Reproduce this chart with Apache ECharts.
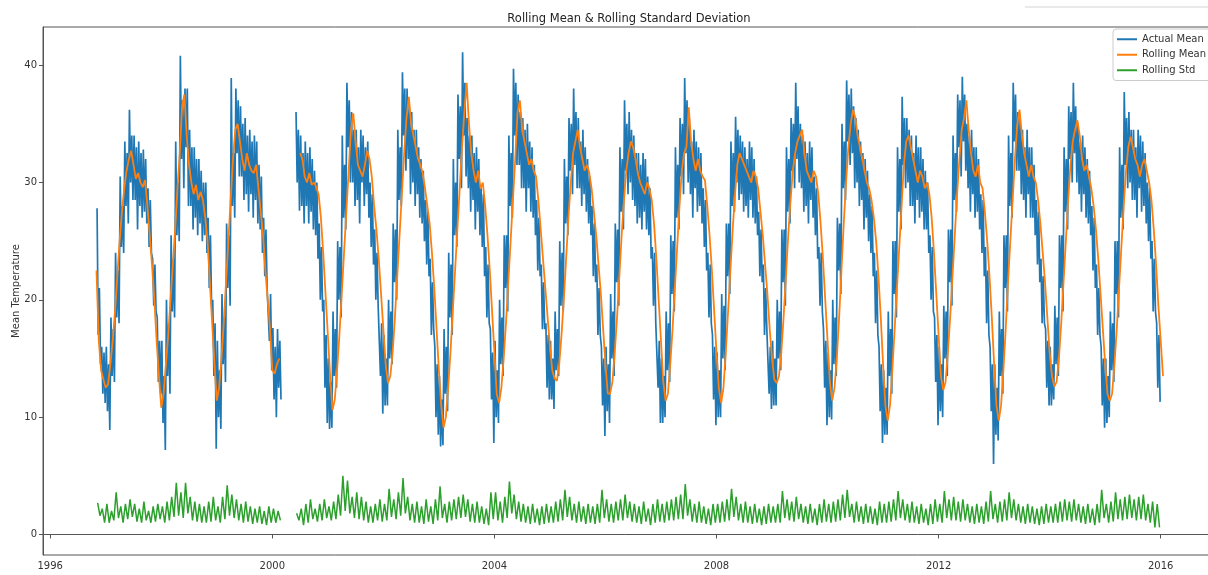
<!DOCTYPE html>
<html><head><meta charset="utf-8">
<script src="https://cdn.jsdelivr.net/npm/echarts@6/dist/echarts.min.js"></script>
<style>html,body{margin:0;padding:0;background:#fff}#c{width:1208px;height:575px}</style>
</head><body><div id="c"></div>
<script>
// Series start: November 1996 (month index 10)
const startYear = 1996, startMonth = 10;

// Rolling mean, two readings per month (1st and 16th)
const rollMean = [
 22.5,16.5,14.0,13.2,
 12.5,12.8,14.5,16.5,19.0,22.0,25.0,27.5,29.5,31.0,32.0,32.7,31.5,30.3,30.8,30.0,29.6,30.2,28.0,25.5,23.0,20.0,16.5,13.5,
 10.8,12.0,14.5,17.0,20.0,23.0,26.0,29.5,32.5,36.5,37.5,34.0,31.5,30.0,29.0,29.8,28.5,29.2,28.5,27.0,25.0,21.5,18.0,14.5,
 11.4,12.5,15.0,18.0,21.5,25.0,28.5,32.0,34.5,35.0,33.5,32.0,31.0,32.5,31.5,31.0,30.8,31.5,29.5,27.5,25.5,22.5,20.0,17.5,
 14.0,13.7,14.5,15.0,null,null,null,null,null,null,null,null,32.5,32.0,30.5,30.0,30.8,29.8,30.0,29.6,29.0,27.0,24.0,20.5,17.0,13.5,
 10.6,11.5,14.0,17.0,20.5,24.0,27.5,31.0,34.5,35.9,33.5,31.5,31.0,30.5,31.5,32.7,32.0,30.5,28.0,26.0,23.5,20.5,17.5,14.5,
 12.9,13.5,15.5,18.5,22.0,25.5,29.0,32.5,35.5,37.3,35.0,34.0,33.0,32.0,31.5,30.8,29.5,28.0,26.5,24.0,21.0,17.5,14.0,11.0,
 9.1,10.0,12.5,15.5,19.0,22.5,26.0,29.5,33.0,36.0,38.5,35.0,32.5,31.0,30.0,31.0,29.5,30.0,28.0,25.5,22.5,19.0,15.5,12.0,
 11.2,12.5,15.0,18.0,21.5,25.0,28.5,32.0,36.0,37.0,34.5,33.5,32.5,31.5,32.0,31.0,30.5,28.5,26.0,23.5,21.0,18.5,16.0,14.0,
 13.3,13.1,14.5,17.0,20.0,23.5,27.0,30.0,32.5,33.5,34.5,33.0,32.0,31.0,31.5,30.8,29.5,27.5,25.5,23.0,20.5,17.5,14.5,12.0,
 12.0,13.0,15.5,18.5,22.0,25.5,28.5,31.0,32.5,33.5,33.0,32.0,30.8,30.0,29.5,29.0,30.0,29.5,28.5,26.5,23.5,20.0,16.5,13.0,
 11.4,12.0,14.5,17.5,21.0,24.5,28.0,31.0,32.5,33.0,36.4,33.5,32.0,31.0,32.0,31.0,30.5,30.2,28.0,25.5,22.5,19.0,15.5,12.5,
 11.2,12.5,15.5,19.0,22.5,26.0,29.0,31.5,32.5,32.0,31.5,31.0,30.5,30.0,31.0,30.5,29.5,27.5,25.5,23.0,20.5,17.5,15.0,13.2,
 12.9,13.5,15.5,18.5,22.0,25.5,28.5,31.0,32.5,33.5,34.0,34.5,32.5,31.0,30.5,30.0,31.0,30.5,29.0,26.5,23.5,20.0,16.5,13.0,
 11.4,12.5,15.0,18.5,22.5,26.5,30.0,33.0,35.0,36.2,35.5,34.0,33.0,32.0,31.0,30.0,29.5,28.5,27.0,25.0,22.0,18.5,14.5,11.0,
 9.7,11.0,14.0,17.5,21.0,24.5,28.0,31.5,33.5,34.0,33.0,32.0,31.0,30.0,31.0,30.5,29.5,30.0,29.0,27.0,24.0,20.5,17.0,13.5,
 12.3,13.0,15.5,18.5,22.0,25.5,29.0,32.0,34.5,35.5,37.0,34.5,32.5,31.0,30.5,31.5,30.0,29.5,27.5,25.0,22.0,18.5,14.5,11.0,
 9.7,11.0,14.0,17.5,21.5,25.0,28.5,32.0,35.0,36.2,34.0,32.5,31.5,30.5,31.5,30.5,30.0,28.5,26.5,24.0,21.5,18.5,15.5,13.5,
 12.6,13.0,15.0,18.0,21.5,25.0,28.5,31.5,33.5,34.5,35.3,34.0,32.0,31.0,31.5,30.5,29.5,28.0,26.0,23.5,20.5,17.5,14.5,12.0,
 11.4,12.0,14.5,17.5,21.0,24.5,28.0,31.0,33.0,33.9,33.0,32.0,31.5,30.5,31.5,32.0,31.0,30.0,28.5,26.0,23.0,19.5,16.5,13.5
];

// Actual mean: largest upper / lower swings read per month
const actualHi = [
 27.8,16.0,
 16.0,18.5,24.0,30.5,33.5,36.2,34.0,33.5,32.8,29.5,23.5,18.5,
 16.5,20.0,25.5,33.5,40.8,38.0,34.5,33.0,32.0,30.0,27.0,20.0,
 16.5,20.5,26.5,38.9,38.0,36.5,35.5,34.5,34.0,31.5,27.0,21.0,
 17.6,17.5,null,null,null,36.0,34.0,33.5,33.0,31.0,26.5,20.0,
 15.0,19.0,25.0,34.0,38.5,36.0,34.5,34.5,33.0,30.0,26.0,19.5,
 17.0,20.0,26.5,34.5,39.4,38.0,36.0,34.5,32.0,28.5,23.5,16.0,
 13.5,17.5,24.0,32.0,37.5,41.1,35.5,34.0,33.0,29.5,24.5,17.5,
 16.5,20.0,25.5,34.0,39.7,37.5,35.5,35.0,33.0,28.5,23.0,18.0,
 16.5,19.0,25.0,32.0,35.5,38.0,35.5,34.5,32.0,28.0,23.0,16.0,
 16.0,20.5,26.5,33.0,37.0,36.0,34.0,32.5,32.5,30.5,24.5,18.0,
 15.0,19.0,25.5,33.0,35.5,38.9,35.5,34.5,33.0,29.5,24.0,17.0,
 15.5,20.5,26.5,33.5,35.6,34.0,33.0,33.5,32.0,27.5,23.0,17.5,
 16.5,20.0,26.0,33.0,35.5,38.5,35.0,33.5,33.5,30.5,24.5,17.5,
 15.5,20.0,27.0,35.0,38.7,38.0,35.5,33.5,32.0,29.0,24.0,16.0,
 14.0,19.0,25.0,33.0,37.3,35.5,34.0,34.0,33.0,31.0,25.5,18.5,
 16.0,19.5,26.0,34.0,37.5,39.0,35.0,34.5,33.0,29.0,24.5,16.0,
 14.5,19.0,25.5,34.0,38.5,36.0,34.5,34.5,33.0,28.5,23.5,17.5,
 16.0,19.5,25.5,33.0,36.5,38.5,35.0,34.0,32.0,28.0,23.0,16.0,
 15.0,19.0,25.0,33.0,37.7,36.0,34.5,34.5,33.5,30.0,25.0,18.0
];
const actualLo = [
 14.5,11.2,
 8.9,13.0,18.0,24.0,26.5,28.5,26.0,27.0,26.5,24.0,19.0,12.0,
 7.2,12.0,18.5,25.0,29.5,28.0,26.0,25.5,25.0,24.0,19.5,7.3,
 9.0,13.0,19.5,27.0,30.5,28.5,27.5,27.0,26.5,24.0,21.0,14.0,
 10.0,11.5,null,null,null,27.6,26.5,26.5,26.0,23.5,19.0,9.5,
 9.1,12.5,18.5,26.0,30.0,28.0,26.5,28.0,27.0,23.0,19.5,10.3,
 11.0,14.5,20.0,28.0,31.0,29.0,28.0,27.0,25.0,22.0,17.5,8.5,
 7.6,10.5,17.0,24.5,29.5,30.5,27.5,26.0,25.5,22.0,18.0,7.8,
 9.5,13.5,19.0,27.0,31.5,29.5,27.5,27.5,25.5,22.0,17.5,11.5,
 10.7,13.5,19.0,25.5,29.0,29.5,28.0,27.5,25.5,21.5,17.0,8.4,
 9.5,13.5,19.5,26.0,29.0,28.5,26.5,26.0,26.0,23.5,18.0,9.5,
 10.0,13.0,19.0,26.0,29.0,30.0,27.0,27.5,26.5,22.5,18.0,9.3,
 10.0,14.0,20.5,27.5,28.5,27.5,27.0,27.0,25.5,21.5,17.5,10.7,
 11.0,14.0,19.5,26.5,29.5,30.0,27.5,26.5,27.0,23.5,19.0,9.3,
 9.8,13.5,20.5,28.5,31.5,29.5,28.0,26.0,25.0,22.0,17.0,7.8,
 8.5,12.0,18.5,26.0,29.5,28.0,26.5,27.0,26.0,24.0,19.0,9.3,
 10.0,13.5,19.5,27.5,30.5,31.0,27.5,27.0,26.0,22.0,17.0,6.0,
 8.0,12.0,19.0,27.0,31.0,29.0,27.0,27.0,25.5,21.5,18.0,11.0,
 11.5,13.5,19.0,26.0,30.0,30.0,27.5,27.0,25.5,21.0,17.0,9.1,
 10.0,13.0,18.5,26.0,29.5,28.5,27.0,27.5,26.5,23.5,19.0,11.3
];
// Actual mean: smaller secondary swings read per month
const actualHi2 = [
 21.0,15.5,
 14.5,17.5,22.5,28.0,32.5,34.0,33.0,32.5,32.0,28.5,23.0,16.5,
 13.5,18.0,23.5,30.0,37.0,38.0,33.0,32.0,31.0,30.0,25.5,18.0,
 14.0,18.5,25.5,32.5,37.0,35.0,34.0,33.5,33.5,30.5,26.0,20.5,
 16.0,16.5,null,null,null,34.5,32.5,32.5,32.0,30.0,24.5,17.0,
 13.0,17.5,24.5,31.5,37.0,34.5,33.0,34.0,33.5,29.0,24.0,18.0,
 15.0,19.0,26.0,33.0,38.0,36.5,34.5,33.0,31.0,27.5,21.5,14.5,
 11.5,16.0,23.0,30.0,36.5,38.5,34.0,32.5,32.0,29.0,23.0,15.5,
 14.0,18.5,25.5,32.5,38.5,36.0,34.5,33.5,31.5,27.0,21.5,17.0,
 15.0,17.5,24.0,30.5,35.0,36.0,33.5,33.0,30.5,26.5,21.0,15.0,
 14.5,19.0,26.0,32.0,35.0,34.5,32.5,31.5,32.0,29.5,24.0,16.5,
 13.5,18.0,25.0,31.5,35.0,37.0,33.5,33.5,32.5,28.5,23.0,16.0,
 14.0,19.5,26.5,32.5,34.5,33.5,32.0,33.0,30.5,26.0,21.0,16.0,
 15.0,19.0,26.0,32.0,35.0,36.5,34.0,32.5,33.0,29.5,24.0,16.5,
 14.0,18.5,26.5,33.5,37.5,36.5,34.5,32.5,31.0,28.0,22.5,14.5,
 12.5,17.5,25.0,32.0,35.5,34.5,32.5,33.0,32.0,30.0,24.5,17.0,
 14.5,19.0,26.0,32.5,37.0,37.5,34.0,33.0,32.0,28.5,22.5,14.5,
 12.5,17.5,25.5,32.5,37.5,35.5,33.0,33.0,31.5,27.5,22.0,16.5,
 14.5,18.5,25.5,32.0,36.0,36.5,33.5,33.0,31.0,27.0,21.0,15.0,
 13.5,18.0,25.0,31.5,35.5,34.5,33.0,34.0,32.5,29.5,23.5,17.0
];
const actualLo2 = [
 17.0,12.0,
 10.5,13.5,18.5,24.5,28.0,30.0,28.5,28.0,27.5,24.5,19.5,13.0,
 9.5,13.5,19.0,25.5,32.0,33.0,28.0,27.0,26.5,25.5,21.0,13.5,
 10.0,14.5,21.0,28.0,32.5,30.5,29.0,29.0,28.5,26.0,22.0,16.5,
 11.5,12.5,null,null,null,30.0,28.0,28.0,27.5,25.5,20.0,12.5,
 9.0,13.5,20.0,27.0,33.0,30.0,28.5,30.0,29.0,24.5,20.0,13.5,
 11.0,15.0,21.5,28.5,34.0,32.0,30.0,29.0,26.5,23.0,17.0,10.0,
 7.5,12.0,18.5,25.5,32.0,34.0,29.5,28.5,27.5,24.5,18.5,11.5,
 10.0,14.5,21.0,28.0,34.0,31.5,29.5,29.5,27.0,22.5,17.5,12.5,
 11.5,14.0,19.5,26.5,31.0,31.5,29.5,29.0,26.5,22.0,17.0,11.0,
 10.5,15.0,21.5,27.5,31.0,30.0,28.0,27.0,27.5,25.5,19.5,12.5,
 9.5,14.0,20.5,27.0,30.5,32.5,29.0,29.5,28.0,24.5,18.5,11.5,
 10.0,15.0,22.0,28.0,30.0,29.0,28.0,28.5,26.5,22.0,17.0,12.0,
 11.0,15.0,21.5,27.5,31.0,32.0,29.5,28.0,28.5,25.5,19.5,12.5,
 10.0,14.5,22.5,29.5,33.5,32.5,30.0,28.5,27.0,24.0,18.0,10.5,
 8.5,13.5,20.5,27.5,31.5,30.0,28.0,28.5,27.5,26.0,20.0,13.0,
 10.5,15.0,21.5,28.5,33.0,33.5,29.5,29.0,27.5,24.0,18.0,10.5,
 8.5,13.5,21.0,28.0,33.5,31.0,28.5,29.0,27.0,23.0,18.0,12.5,
 11.0,14.5,21.0,27.5,32.0,32.5,29.0,29.0,26.5,22.5,17.0,11.0,
 9.5,14.0,20.5,27.0,31.5,30.0,28.5,29.5,28.0,25.0,19.0,12.5
];

// Rolling std: upper and lower swings read per month
const stdHi = [
 2.7,2.2,
 2.6,2.0,3.6,2.4,2.6,3.0,2.6,2.2,2.8,2.0,2.4,2.6,
 2.4,2.8,3.2,4.4,3.6,4.4,3.2,2.8,2.6,2.4,2.8,3.2,
 2.4,3.2,4.2,3.4,3.0,2.6,2.8,2.4,2.2,2.4,2.0,2.4,
 2.2,2.0,null,null,null,1.8,2.2,2.6,3.0,2.2,2.6,3.0,
 2.4,2.8,3.4,5.0,4.6,3.2,3.6,3.2,2.8,2.4,2.6,3.0,
 2.6,3.9,3.0,3.6,4.8,3.2,2.6,2.8,2.4,3.0,2.4,3.0,
 4.1,2.6,2.8,3.0,3.2,3.4,3.0,2.6,2.8,2.4,2.2,3.6,
 3.6,2.8,3.2,4.5,3.4,2.8,2.6,2.4,2.6,2.2,2.4,2.6,
 2.4,2.8,3.0,3.8,3.2,2.6,2.8,2.4,2.6,2.4,2.6,3.8,
 3.0,2.6,2.8,3.0,3.4,2.8,2.6,2.4,2.8,2.2,2.6,3.0,
 2.6,2.8,3.0,3.2,3.4,4.3,3.0,2.6,2.8,2.4,2.2,2.6,
 2.6,2.8,3.0,3.9,3.2,2.6,2.8,2.4,2.6,2.2,2.4,2.6,
 2.4,2.6,3.7,3.0,2.8,3.2,2.6,2.4,2.6,2.2,2.6,3.0,
 2.6,2.8,3.0,3.4,3.8,2.6,2.8,2.4,2.6,2.4,2.2,2.8,
 2.6,2.8,3.0,3.7,3.0,2.6,2.8,2.4,2.6,2.2,2.6,3.0,
 2.6,3.7,3.0,3.2,2.8,3.0,2.6,2.4,2.6,2.4,2.8,3.7,
 2.6,2.8,3.0,3.6,3.0,2.6,2.4,2.6,2.4,2.2,2.4,2.6,
 2.4,2.6,2.8,3.0,2.8,3.0,2.6,2.4,2.6,2.2,2.6,3.8,
 2.6,2.8,3.6,3.0,3.2,3.4,3.0,3.2,3.4,2.6,2.8,2.6
];
const stdLo = [
 1.6,1.0,
 1.0,1.2,1.4,1.0,1.3,1.5,1.1,1.0,1.2,1.0,1.1,1.3,
 1.0,1.2,1.5,1.6,1.4,1.8,1.2,1.1,1.0,1.0,1.1,1.2,
 1.0,1.3,1.6,1.4,1.2,1.0,1.1,0.9,1.0,0.9,0.8,1.0,
 1.0,1.2,null,null,null,1.2,0.8,1.0,1.3,1.1,1.2,1.4,
 1.2,1.3,1.6,2.0,1.8,1.4,1.3,1.2,1.0,1.0,1.2,1.1,
 1.2,1.5,1.3,1.6,1.8,1.2,1.0,1.0,0.9,1.1,0.9,1.2,
 1.4,1.0,1.2,1.3,1.4,1.5,1.1,1.0,1.0,0.9,0.8,1.3,
 1.2,1.0,1.4,1.8,1.3,1.1,1.0,0.9,1.0,0.8,0.9,1.0,
 1.0,1.1,1.2,1.5,1.2,1.0,1.1,0.9,1.0,0.9,1.0,1.4,
 1.1,1.0,1.2,1.2,1.4,1.1,1.0,0.9,1.1,0.8,1.0,1.1,
 1.0,1.2,1.2,1.3,1.3,1.6,1.1,1.0,1.0,0.9,0.8,1.0,
 1.0,1.1,1.2,1.5,1.2,1.0,1.0,0.9,1.0,0.8,0.9,1.0,
 1.0,1.0,1.4,1.2,1.1,1.3,1.0,0.9,1.0,0.8,1.0,1.1,
 1.0,1.1,1.2,1.4,1.5,1.0,1.1,0.9,1.0,0.9,0.8,1.0,
 1.0,1.1,1.2,1.4,1.2,1.0,1.0,0.9,1.0,0.8,0.9,1.1,
 1.0,1.4,1.2,1.2,1.1,1.2,1.0,0.9,1.0,0.9,1.1,1.3,
 1.0,1.1,1.2,1.4,1.2,1.0,0.9,1.0,0.9,0.8,0.9,1.0,
 1.0,1.0,1.1,1.2,1.1,1.2,1.0,0.9,1.0,0.8,1.0,1.4,
 1.0,1.1,1.3,1.2,1.3,1.4,1.2,1.3,1.2,1.0,0.6,0.6
];

const xTicks = [1996, 2000, 2004, 2008, 2012, 2016];
const yTicks = [0, 10, 20, 30, 40];

// time positions (decimal years) from the month index
const tHalf = i => startYear + (startMonth + i / 2) / 12;
const tMonth = (j, f) => startYear + (startMonth + j + f) / 12;
const val = v => (v === null ? '-' : v);

const meanData = [];
actualHi.forEach((h, j) => {
  meanData.push([tMonth(j, 0.125), val(h)]);
  meanData.push([tMonth(j, 0.375), val(actualLo2[j])]);
  meanData.push([tMonth(j, 0.625), val(actualHi2[j])]);
  meanData.push([tMonth(j, 0.875), val(actualLo[j])]);
});
const rollData = rollMean.map((v, i) => [tHalf(i), val(v)]);
const stdData = [];
stdHi.forEach((h, j) => {
  stdData.push([tMonth(j, 0.25), val(h)]);
  stdData.push([tMonth(j, 0.75), val(stdLo[j])]);
});

const font = 'DejaVu Sans';
const axisColor = '#555';
const chart = echarts.init(document.getElementById('c'), null, {renderer: 'canvas'});
chart.setOption({
  animation: false,
  textStyle: {fontFamily: font},
  title: {
    text: 'Rolling Mean & Rolling Standard Deviation',
    left: 624, top: 8, textAlign: 'center',
    textStyle: {fontSize: 11.5, fontWeight: 'normal', color: '#222', fontFamily: font}
  },
  legend: {
    orient: 'vertical', left: 1113, top: 29,
    itemWidth: 20, itemHeight: 2, itemGap: 3, icon: 'rect',
    padding: [4, 8, 4, 4],
    borderColor: '#ccc', borderWidth: 1, borderRadius: 3,
    backgroundColor: 'rgba(255,255,255,0.8)',
    textStyle: {fontSize: 10, color: '#333', lineHeight: 12.5, fontFamily: font},
    data: ['Actual Mean', 'Rolling Mean', 'Rolling Std']
  },
  graphic: [{type: 'line', shape: {x1: 1025, y1: 7, x2: 1208, y2: 7}, style: {stroke: '#e2e2e2', lineWidth: 1.5}, silent: true}],
  grid: {left: 43, top: 27, width: 1171, height: 528, show: true, borderColor: axisColor, borderWidth: 1,
         outerBoundsMode: 'none', containLabel: false},
  xAxis: {
    type: 'value', min: 1995.87, max: 2016.96,
    axisLine: {show: true, lineStyle: {color: axisColor}},
    axisTick: {show: true, length: 4, customValues: xTicks, lineStyle: {color: axisColor}},
    axisLabel: {customValues: xTicks, formatter: v => String(Math.round(v)), fontSize: 10, color: '#333', margin: 6, fontFamily: font},
    splitLine: {show: false}
  },
  yAxis: {
    type: 'value', min: -1.75, max: 43.25,
    name: 'Mean Temperature', nameLocation: 'middle', nameGap: 22, nameMoveOverlap: false,
    nameTextStyle: {fontSize: 10, color: '#333', fontFamily: font},
    axisLine: {show: true, lineStyle: {color: axisColor}},
    axisTick: {show: true, length: 4, customValues: yTicks, lineStyle: {color: axisColor}},
    axisLabel: {customValues: yTicks, fontSize: 10, color: '#333', margin: 6, fontFamily: font},
    splitLine: {show: false}
  },
  series: [
    {name: 'Actual Mean', type: 'line', data: meanData, symbol: 'none', connectNulls: false,
     lineStyle: {width: 1.7, color: '#1f77b4'}, itemStyle: {color: '#1f77b4'}, z: 2},
    {name: 'Rolling Mean', type: 'line', data: rollData, symbol: 'none', connectNulls: false,
     lineStyle: {width: 1.8, color: '#ff7f0e'}, itemStyle: {color: '#ff7f0e'}, z: 3},
    {name: 'Rolling Std', type: 'line', data: stdData, symbol: 'none', connectNulls: false,
     lineStyle: {width: 1.5, color: '#2ca02c'}, itemStyle: {color: '#2ca02c'}, z: 4}
  ]
});
</script>
</body></html>
